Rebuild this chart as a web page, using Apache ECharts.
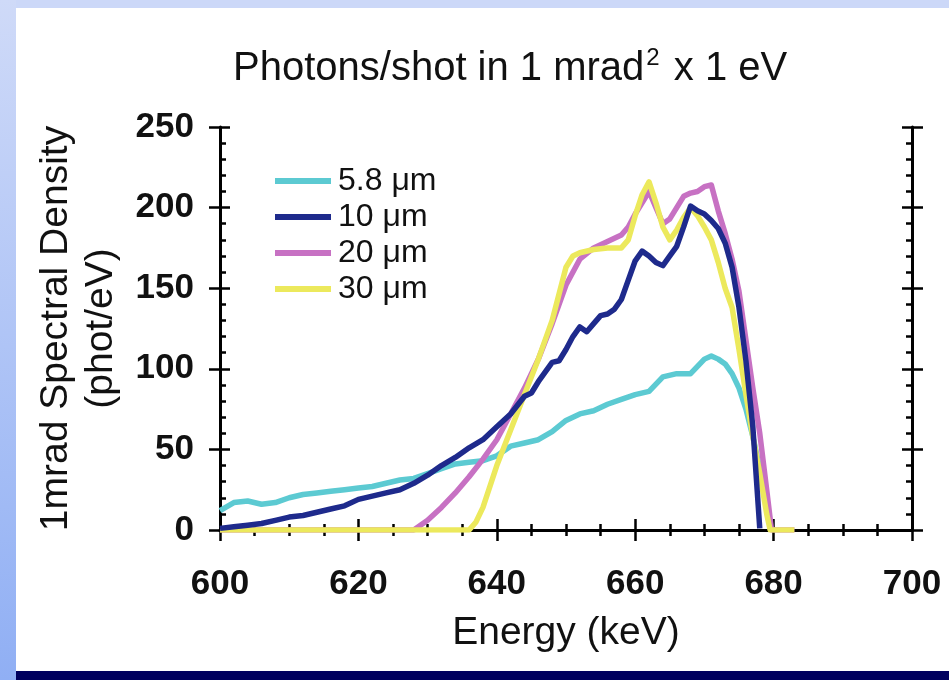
<!DOCTYPE html>
<html>
<head>
<meta charset="utf-8">
<script src="https://cdn.jsdelivr.net/npm/echarts@6/dist/echarts.min.js"></script>
<style>
  html, body { margin: 0; padding: 0; background: #fff; }
  #chart { width: 949px; height: 680px; }
</style>
</head>
<body>
<div id="chart"></div>
<script>
// 5.8 um (cyan)
const e58 = [600, 602, 604, 606, 608, 610, 612, 614, 616, 618, 620, 622, 624, 626, 628, 630, 632, 634, 636, 638, 640, 642, 644, 646, 648, 650, 652, 654, 656, 658, 660, 662, 664, 666, 668, 670, 671, 672, 673, 674, 675, 676, 677, 678, 679, 679.6];
const v58 = [12, 17, 18, 16, 17, 20, 22, 23, 24, 25, 26, 27, 29, 31, 32, 35, 38, 41, 42, 43, 46, 52, 54, 56, 61, 68, 72, 74, 78, 81, 84, 86, 95, 97, 97, 106, 108, 106, 103, 97, 88, 75, 58, 38, 14, 0];

// 10 um (navy)
const e10 = [600, 602, 604, 606, 608, 610, 612, 614, 616, 618, 620, 622, 624, 626, 628, 630, 632, 634, 636, 638, 640, 642, 644, 645, 646, 648, 649, 650, 651, 652, 653, 654, 655, 656, 657, 658, 659, 660, 661, 662, 663, 664, 665, 666, 667, 668, 669, 670, 671, 672, 673, 674, 675, 676, 677, 678];
const v10 = [1, 2, 3, 4, 6, 8, 9, 11, 13, 15, 19, 21, 23, 25, 29, 34, 40, 45, 51, 56, 64, 72, 83, 85, 92, 104, 105, 112, 120, 126, 123, 128, 133, 134, 137, 143, 155, 167, 173, 170, 166, 164, 170, 176, 188, 201, 198, 196, 192, 187, 178, 163, 138, 105, 64, 1];

// 20 um (magenta)
const e20 = [600, 628, 630, 632, 634, 636, 638, 640, 642, 644, 646, 648, 650, 652, 654, 656, 658, 659, 660, 661, 662, 663, 664, 665, 666, 667, 668, 669, 670, 671, 672, 673, 674, 675, 676, 677, 678, 679, 679.7, 683];
const v20 = [0, 0, 6, 14, 23, 33, 44, 56, 72, 88, 106, 128, 152, 168, 175, 179, 183, 188, 196, 203, 210, 200, 190, 193, 200, 207, 209, 210, 213, 214, 198, 184, 168, 148, 118, 88, 60, 25, 0, 0];

// 30 um (yellow)
const e30 = [600, 636, 637, 638, 640, 642, 644, 646, 648, 650, 651, 652, 654, 656, 658, 659, 660, 661, 662, 663, 664, 665, 666, 667, 668, 669, 670, 671, 672, 673, 674, 675, 676, 677, 678, 679, 679.5, 683];
const v30 = [0, 0, 5, 14, 40, 62, 84, 106, 130, 163, 170, 172, 174, 175, 175, 180, 195, 208, 216, 203, 188, 180, 186, 194, 200, 195, 188, 180, 166, 150, 138, 112, 84, 58, 35, 10, 0, 0];

const names = ['5.8 μm', '10 μm', '20 μm', '30 μm'];
const colors = ['#5ccad2', '#1e2a8c', '#c771c3', '#ece95c'];

const FONT = '"Liberation Sans", Arial, sans-serif';

function pairs(xs, ys) {
    return xs.map((x, i) => [x, ys[i]]);
}

// axis with inward ticks (+ minor ticks) and optional labels
function innerAxis(pos, min, max, interval, minorSplit, withLabel) {
    return {
        type: 'value', position: pos, min: min, max: max, interval: interval,
        axisLine: { show: true, lineStyle: { color: '#000', width: 3 } },
        axisTick: { show: true, inside: true, length: 10, lineStyle: { color: '#000', width: 2.5 } },
        minorTick: { show: true, splitNumber: minorSplit, length: 6, lineStyle: { color: '#000', width: 2.5 } },
        splitLine: { show: false },
        axisLabel: withLabel
            ? { show: true, color: '#111', fontFamily: FONT, fontWeight: 'bold', fontSize: 35, margin: pos === 'bottom' ? 37 : 26 }
            : { show: false }
    };
}

// same scale, only the outward half of the major ticks
function outerAxis(pos, min, max, interval) {
    return {
        type: 'value', position: pos, min: min, max: max, interval: interval,
        axisLine: { show: false },
        axisTick: { show: true, inside: false, length: 11, lineStyle: { color: '#000', width: 2.5 } },
        minorTick: { show: false },
        splitLine: { show: false },
        axisLabel: { show: false }
    };
}

const xMain = innerAxis('bottom', 600, 700, 20, 4, true);
xMain.name = 'Energy (keV)';
xMain.nameLocation = 'middle';
xMain.nameGap = 84;
xMain.nameTextStyle = { color: '#111', fontFamily: FONT, fontSize: 39 };

const yMain = innerAxis('left', 0, 250, 50, 5, true);
yMain.name = '1mrad Spectral Density\n(phot/eV)';
yMain.nameLocation = 'middle';
yMain.nameGap = 96;
yMain.nameTextStyle = { color: '#111', fontFamily: FONT, fontSize: 39, lineHeight: 45 };

const lineSeries = [[e58, v58], [e10, v10], [e20, v20], [e30, v30]].map((d, i) => ({
    name: names[i],
    type: 'line',
    data: pairs(d[0], d[1]),
    showSymbol: false,
    symbol: 'none',
    lineStyle: { color: colors[i], width: 5.5, join: 'round' },
    itemStyle: { color: colors[i] },
    z: [2, 5, 3, 4][i],
    animation: false
}));

const chart = echarts.init(document.getElementById('chart'));

chart.setOption({
    backgroundColor: '#fff',
    animation: false,
    grid: { left: 220, right: 37, top: 127, bottom: 150 },
    xAxis: [
        xMain,
        outerAxis('bottom', 600, 700, 20),
        innerAxis('top', 600, 700, 20, 4, false),
        outerAxis('top', 600, 700, 20)
    ],
    yAxis: [
        yMain,
        outerAxis('left', 0, 250, 50),
        innerAxis('right', 0, 250, 50, 5, false),
        outerAxis('right', 0, 250, 50)
    ],
    legend: {
        orient: 'vertical',
        left: 270,
        top: 160,
        icon: 'rect',
        itemWidth: 56,
        itemHeight: 6,
        itemGap: 4,
        data: names,
        textStyle: { color: '#111', fontFamily: FONT, fontSize: 32, padding: [0, 0, 0, 2] }
    },
    graphic: [
        {
            type: 'rect', left: 0, top: 0, z: -10,
            shape: { width: 949, height: 8 },
            style: { fill: '#ccd8f8' }
        },
        {
            type: 'rect', left: 0, top: 0, z: -9,
            shape: { width: 16, height: 680 },
            style: {
                fill: new echarts.graphic.LinearGradient(0, 0, 0, 1, [
                    { offset: 0, color: '#cfdaf8' },
                    { offset: 1, color: '#90aff4' }
                ])
            }
        },
        {
            type: 'rect', left: 16, top: 671, z: -9,
            shape: { width: 933, height: 9 },
            style: { fill: '#00005e' }
        },
        {
            type: 'text', left: 233, top: 46,
            style: {
                text: '{a|Photons/shot in 1 mrad}{s|2}{a| x 1 eV}',
                fill: '#111',
                font: '40px ' + FONT,
                rich: {
                    a: { fontSize: 40, fontFamily: FONT, lineHeight: 46, fill: '#111' },
                    s: { fontSize: 24, fontFamily: FONT, lineHeight: 46, verticalAlign: 'top', padding: [0, 3, 8, 2], fill: '#111' }
                }
            }
        }
    ],
    series: lineSeries
});
</script>
</body>
</html>
